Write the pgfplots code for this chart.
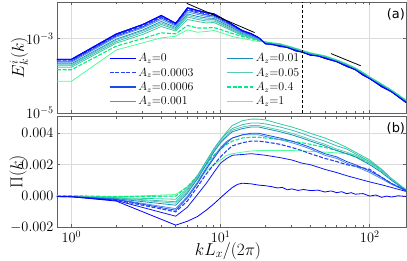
\documentclass[border=0pt]{standalone}
\usepackage{fontspec}
\usepackage{graphicx}
\usepackage{pgfplots}
\usepackage{pgfplotstable}
\pgfplotsset{compat=1.18}
\newfontfamily\dejavu{DejaVu Sans}

\definecolor{colA}{rgb}{0,0,1}
\definecolor{colB}{rgb}{0.05,0.1,0.95}
\definecolor{colC}{rgb}{0.15,0.25,0.97}
\definecolor{colF}{rgb}{0.1,0.3,0.92}
\definecolor{colG}{rgb}{0.3,0.55,0.92}
\definecolor{colH}{rgb}{0.1,0.55,0.75}
\definecolor{colI}{rgb}{0.35,0.8,0.7}
\definecolor{colJ}{rgb}{0.25,0.72,0.72}
\definecolor{colK}{rgb}{0.2,0.8,0.62}
\definecolor{colE}{rgb}{0,0.92,0.5}
\definecolor{colD}{rgb}{0.3,1,0.6}

\tikzset{dsh/.style={dash pattern=on 4bp off 1.6bp, line width=1.1pt},
         sol/.style={line width=0.8pt}}

% log10 of E_k^i(k)
\pgfplotstableread{
k    c1     c2     c3     c6     c7     c8     c9     c10    c11    c5     c4
0.8  -3.554 -3.568 -3.581 -3.608 -3.635 -3.676 -3.703 -3.730 -3.770 -3.838 -4.149
1    -3.554 -3.568 -3.581 -3.608 -3.635 -3.676 -3.703 -3.730 -3.770 -3.838 -4.149
2    -2.873 -2.892 -2.905 -2.932 -2.959 -3.014 -3.041 -3.081 -3.122 -3.203 -3.305
3    -2.622 -2.635 -2.662 -2.689 -2.716 -2.770 -2.797 -2.838 -2.892 -3.000 -3.116
4    -2.378 -2.392 -2.419 -2.446 -2.487 -2.541 -2.581 -2.622 -2.676 -2.846 -2.981
5    -2.587 -2.595 -2.614 -2.635 -2.662 -2.703 -2.730 -2.757 -2.797 -2.873 -2.938
6    -2.170 -2.189 -2.216 -2.243 -2.284 -2.338 -2.378 -2.419 -2.487 -2.649 -2.765
7    -2.243 -2.257 -2.284 -2.311 -2.351 -2.405 -2.446 -2.487 -2.541 -2.716 -2.830
8    -2.297 -2.311 -2.338 -2.365 -2.405 -2.446 -2.487 -2.527 -2.581 -2.716 -2.811
9    -2.332 -2.346 -2.365 -2.392 -2.419 -2.459 -2.487 -2.527 -2.568 -2.703 -2.784
10   -2.432 -2.446 -2.459 -2.487 -2.514 -2.554 -2.581 -2.608 -2.649 -2.757 -2.838
12   -2.622 -2.635 -2.649 -2.662 -2.689 -2.716 -2.743 -2.770 -2.797 -2.865 -2.946
14   -2.784 -2.797 -2.811 -2.824 -2.838 -2.865 -2.878 -2.892 -2.919 -2.946 -3.000
16   -2.865 -2.878 -2.892 -2.905 -2.919 -2.932 -2.946 -2.959 -2.973 -3.000 -3.041
18   -2.973 -2.981 -2.989 -3.000 -3.008 -3.016 -3.027 -3.035 -3.043 -3.054 -3.081
20   -3.143 -3.136 -3.130 -3.125 -3.120 -3.113 -3.108 -3.103 -3.097 -3.091 -3.085
22   -3.150 -3.163 -3.157 -3.152 -3.147 -3.140 -3.135 -3.130 -3.124 -3.118 -3.112
25   -3.215 -3.190 -3.184 -3.179 -3.174 -3.167 -3.162 -3.157 -3.151 -3.145 -3.139
28   -3.235 -3.244 -3.238 -3.233 -3.228 -3.221 -3.216 -3.211 -3.205 -3.199 -3.193
32   -3.335 -3.312 -3.306 -3.301 -3.296 -3.289 -3.284 -3.279 -3.273 -3.267 -3.261
35   -3.360 -3.366 -3.360 -3.355 -3.350 -3.343 -3.338 -3.333 -3.327 -3.321 -3.315
40   -3.450 -3.433 -3.427 -3.422 -3.417 -3.410 -3.405 -3.400 -3.394 -3.388 -3.382
45   -3.465 -3.474 -3.468 -3.463 -3.458 -3.451 -3.446 -3.441 -3.435 -3.429 -3.423
50   -3.535 -3.515 -3.509 -3.504 -3.499 -3.492 -3.487 -3.482 -3.476 -3.470 -3.464
60   -3.620 -3.623 -3.617 -3.612 -3.607 -3.600 -3.595 -3.590 -3.584 -3.578 -3.572
70   -3.750 -3.731 -3.725 -3.720 -3.715 -3.708 -3.703 -3.698 -3.692 -3.686 -3.680
80   -3.835 -3.839 -3.833 -3.828 -3.823 -3.816 -3.811 -3.806 -3.800 -3.794 -3.788
90   -3.985 -3.960 -3.954 -3.949 -3.944 -3.937 -3.932 -3.927 -3.921 -3.915 -3.909
100  -4.075 -4.082 -4.076 -4.071 -4.066 -4.059 -4.054 -4.049 -4.043 -4.037 -4.031
120  -4.295 -4.271 -4.265 -4.260 -4.255 -4.248 -4.243 -4.238 -4.232 -4.226 -4.220
140  -4.430 -4.433 -4.427 -4.422 -4.417 -4.410 -4.405 -4.400 -4.394 -4.388 -4.382
175  -4.720 -4.704 -4.698 -4.693 -4.688 -4.681 -4.676 -4.671 -4.665 -4.659 -4.653
}\topdata

% Pi(k), curve A_z=0
\pgfplotstableread{
k    p
0.8  -0.00003
1    -0.00004
2    -0.00032
5    -0.00185
6    -0.0016
7    -0.0013
8    -0.0009
9    -0.0005
10   -0.0001
11   0.00025
12   0.00055
13   0.00075
14   0.00082
16   0.00078
18   0.0007
20   0.00066
22   0.0006
24   0.00052
26   0.00055
28   0.0004
30   0.00046
33   0.00036
36   0.00042
40   0.00035
45   0.00038
50   0.00026
55   0.00033
60   0.00022
65   0.00028
70   0.00015
75   0.00022
80   0.00012
90   0.00016
100  0.0
110  0.00007
120  -0.00008
130  0.0
140  -0.00006
155  0.00002
175  -0.00002
}\botzero

% Pi(k), other curves
\pgfplotstableread{
k    c2       c3       c6       c7       c8       c9       c10      c11      c5       c4
0.8  -0.00003 -0.00003 -0.00003 -0.00003 -0.00002 -0.00002 -0.00002 -0.00001 0.00002  0.00001
1    -0.00004 -0.00004 -0.00003 -0.00003 -0.00003 -0.00002 -0.00002 -0.00002 0.00002  0.00001
2    -0.00028 -0.00025 -0.00022 -0.0002  -0.00017 -0.00014 -0.00012 -0.0001  -0.00003 -0.00005
5    -0.00128 -0.001   -0.0009  -0.0008  -0.00058 -0.00045 -0.00036 -0.0002  0.0      0.0001
6    -0.0007  -0.0003  -0.0001  0.0      0.0002   0.0003   0.0004   0.0005   0.0006   0.0006
7    0.0001   0.0006   0.0008   0.0009   0.0011   0.0012   0.0013   0.0013   0.0013   0.0011
8    0.0008   0.0014   0.0017   0.0018   0.002    0.0021   0.0022   0.0022   0.002    0.0016
9    0.0015   0.002    0.0024   0.0025   0.0028   0.0029   0.003    0.003    0.0026   0.002
10   0.0021   0.0025   0.003    0.0031   0.0034   0.0035   0.0036   0.0036   0.003    0.0023
11   0.0024   0.0029   0.0034   0.0035   0.0038   0.0039   0.004    0.0041   0.0033   0.0026
12   0.0026   0.0032   0.0037   0.0037   0.0041   0.0042   0.0043   0.0045   0.0035   0.0027
14   0.00265  0.0034   0.0039   0.0039   0.0043   0.0044   0.00455  0.0048   0.0037   0.0028
16   0.0027   0.0035   0.004    0.0039   0.0044   0.0045   0.00465  0.0049   0.00375  0.00287
18   0.00265  0.0035   0.004    0.0039   0.0044   0.0045   0.00465  0.0049   0.00375  0.0029
20   0.0026   0.00345  0.0039   0.0038   0.0043   0.0044   0.0046   0.00485  0.0037   0.0029
25   0.00245  0.0033   0.0037   0.0036   0.0041   0.0042   0.0044   0.0046   0.0036   0.0029
30   0.0023   0.0031   0.0035   0.0034   0.0039   0.004    0.0042   0.0044   0.0035   0.0029
35   0.0021   0.0029   0.0033   0.0032   0.0037   0.0038   0.004    0.0042   0.0034   0.00288
40   0.002    0.0027   0.0031   0.003    0.0035   0.0036   0.0038   0.004    0.0033   0.00285
50   0.0017   0.0024   0.0027   0.0026   0.0032   0.0033   0.0035   0.0037   0.0031   0.0028
60   0.0015   0.0022   0.0025   0.0024   0.0029   0.003    0.0032   0.0034   0.0029   0.00275
70   0.0013   0.002    0.0022   0.0021   0.0027   0.0028   0.003    0.0031   0.0027   0.0027
80   0.00115  0.0019   0.002    0.0019   0.0025   0.0026   0.0027   0.0028   0.0025   0.0026
100  0.0009   0.0017   0.0016   0.0015   0.002    0.0021   0.0022   0.0023   0.0021   0.0022
120  0.00072  0.0012   0.0012   0.0011   0.0015   0.0016   0.0017   0.0017   0.0016   0.0016
140  0.00055  0.0008   0.0008   0.00075  0.001    0.0011   0.0011   0.0011   0.0011   0.0011
175  0.0003   0.00035  0.00035  0.00035  0.00035  0.00035  0.00035  0.0004   0.0004   0.0004
}\botdata

\newcommand{\tplot}[2]{\addplot[#2] table[x=k, y expr={10^(\thisrow{#1})}] {\topdata};}
\newcommand{\bplot}[2]{\addplot[#2, forget plot] table[x=k, y=#1] {\botdata};}

\begin{document}
\begin{tikzpicture}
\useasboundingbox (-57bp,-33.5bp) rectangle (350bp,227.5bp);
% ---------------- top panel
\begin{axis}[at={(0,114.5bp)}, anchor=south west,
  scale only axis, width=349bp, height=111bp,
  xmode=log, xmin=0.8, xmax=175, xtick={1,10,100},
  axis line style={gray!75!black, line width=0.8pt},
  grid=major, major grid style={gray!28, line width=0.6pt},
  tick style={gray!75!black, line width=0.6pt},
  tick align=inside, major tick length=3.5bp, minor tick length=2.5bp,
  tick label style={font=\fontsize{14}{14}\selectfont},
  ymode=log, ymin=1e-5, ymax=0.0096, ytick={1e-5,1e-3},
  yminorticks=false,
  xticklabels={},
  legend columns=2,
  legend cell align=left,
  legend image code/.code={\draw[#1, line width=1.3pt] (0bp,0bp) -- (26bp,0bp);},
  legend style={at={(axis description cs:0.14,0.572)}, anchor=north west,
    draw=none, fill=none, font=\fontsize{12}{12}\selectfont, row sep=0.6bp,
    /tikz/every even column/.append style={column sep=31bp}},
]
% legend curves, in row-wise legend order
\tplot{c1}{color=colA, sol}
\addlegendentry{$A_z{=}0$}
\tplot{c8}{color=colH, sol}
\addlegendentry{$A_z{=}0.01$}
\tplot{c3}{color=colC, dsh}
\addlegendentry{$A_z{=}0.0003$}
\tplot{c9}{color=colI, sol}
\addlegendentry{$A_z{=}0.05$}
\tplot{c6}{color=colF, sol}
\addlegendentry{$A_z{=}0.0006$}
\tplot{c5}{color=colE, dsh}
\addlegendentry{$A_z{=}0.4$}
\tplot{c7}{color=colG, sol}
\addlegendentry{$A_z{=}0.001$}
\tplot{c4}{color=colD, sol}
\addlegendentry{$A_z{=}1$}
% further curves
\tplot{c11}{color=colK, sol, forget plot}
\tplot{c10}{color=colJ, sol, forget plot}
\tplot{c2}{color=colB, sol, forget plot}
\tplot{c1}{color=colA, sol, forget plot}
\addplot[black, line width=0.8pt, forget plot] coordinates {(5.93,0.00883) (16.9,0.00145)};
\addplot[black, line width=0.8pt, forget plot] coordinates {(55,3.94e-4) (87,1.86e-4)};
\addplot[black, line width=0.8pt, dash pattern=on 3bp off 2bp, forget plot] coordinates {(35.2,1e-5) (35.2,0.0096)};
\node[font=\dejavu\fontsize{13}{13}\selectfont] at (axis description cs:0.971,0.89) {(a)};
\end{axis}
% ---------------- bottom panel
\begin{axis}[at={(0,0)}, anchor=south west,
  scale only axis, width=349bp, height=111.5bp,
  xmode=log, xmin=0.8, xmax=175, xtick={1,10,100},
  axis line style={gray!75!black, line width=0.8pt},
  grid=major, major grid style={gray!28, line width=0.6pt},
  tick style={gray!75!black, line width=0.6pt},
  tick align=inside, major tick length=3.5bp, minor tick length=2.5bp,
  tick label style={font=\fontsize{14}{14}\selectfont},
  ymin=-0.002, ymax=0.0051,
  ytick={-0.002,0,0.002,0.004},
  yticklabels={$-0.002$,$0.000$,$0.002$,$0.004$},
  scaled y ticks=false,
]
\bplot{c4}{color=colD, sol}
\bplot{c5}{color=colE, dsh}
\bplot{c11}{color=colK, sol}
\bplot{c10}{color=colJ, sol}
\bplot{c9}{color=colI, sol}
\bplot{c8}{color=colH, sol}
\bplot{c7}{color=colG, sol}
\bplot{c6}{color=colF, sol}
\bplot{c3}{color=colC, dsh}
\bplot{c2}{color=colB, sol}
\addplot[color=colA, sol, forget plot] table[x=k, y=p] {\botzero};
\node[font=\dejavu\fontsize{13}{13}\selectfont] at (axis description cs:0.971,0.89) {(b)};
\end{axis}
% axis labels
\node[inner sep=0pt, font=\fontsize{18}{18}\selectfont] at (-38bp,170bp) {\rotatebox{90}{$E_k^i(k)$}};
\node[inner sep=0pt, font=\fontsize{18}{18}\selectfont] at (-39bp,55.7bp) {\rotatebox{90}{$\Pi(k)$}};
\node[font=\fontsize{18}{18}\selectfont] at (171bp,-23.5bp) {$kL_x/(2\pi)$};
\end{tikzpicture}
\end{document}
